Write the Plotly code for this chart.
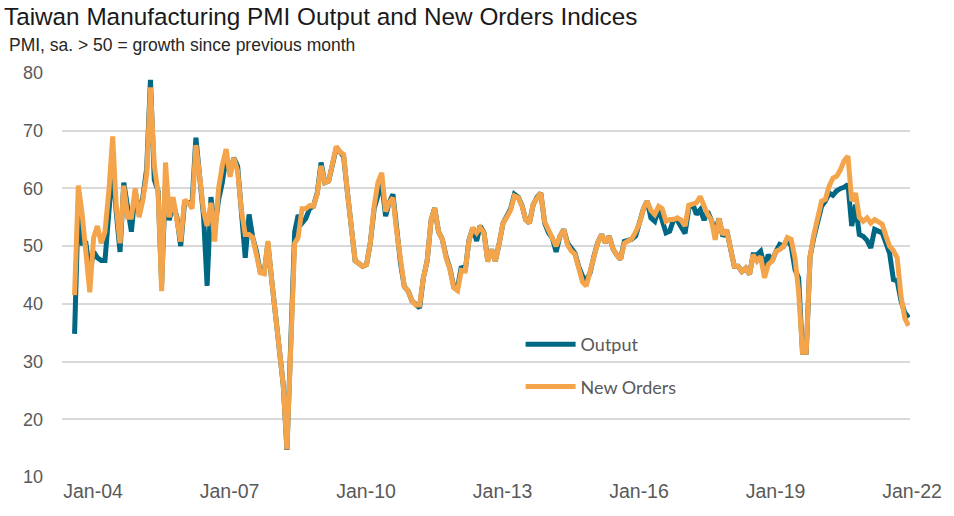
import pandas as pd
import plotly.graph_objects as go

# monthly index values, Apr-2004 .. Aug-2022 (one row per calendar year)
output_idx = [
    34.8, 57.5, 50.5, 50.5, 45.5, 49, 48, 47.5, 47.5,                      # 2004
    57, 64, 56, 49, 61, 56, 52.5, 59.5, 55.5, 58.5, 63.5, 78.8,            # 2005
    61.5, 59.5, 43.5, 61, 54.5, 57.5, 55, 50, 57.5, 57.5, 57.7, 68.8,      # 2006
    62, 55, 43.1, 58.5, 53, 58, 61, 65.5, 62.5, 65.3, 63.8, 56.5,          # 2007
    48, 55.5, 51.5, 49, 45.5, 45.4, 50.5, 44, 38, 33, 26, 14.7,            # 2008
    33, 52.5, 55.4, 54, 54.8, 56.5, 56.9, 59.2, 64.5, 61, 61.3, 64,        # 2009
    67, 66.3, 65.5, 59.2, 52.5, 47.5, 47, 46.5, 46.8, 50.5, 56.5, 58.5,    # 2010
    61, 55.2, 57.5, 59, 52.5, 47, 43, 42.2, 40.5, 39.8, 39.3, 44.5,        # 2011
    47.5, 54.5, 56.6, 52.5, 51.2, 48.2, 46.2, 43, 42.8, 46.5, 45.7, 51,    # 2012
    53.2, 50.9, 53.5, 52.3, 47.5, 49.4, 47.4, 50.5, 54, 55.2, 56.5, 59,    # 2013
    58.5, 57, 54.6, 54, 57.2, 58.5, 59.2, 54, 52.3, 51.4, 49, 51.7,        # 2014
    52.9, 50.5, 49.5, 48.8, 46.5, 44.8, 44, 45.4, 48.3, 50.6, 52, 50.6,    # 2015
    51.7, 49.5, 48.5, 47.7, 50.8, 51, 51.2, 51.8, 54, 56.4, 57.8, 54.9,    # 2016
    54.3, 56.5, 54.5, 52.3, 52.6, 54.6, 54.5, 53.5, 52.2, 56.5, 57.4, 55.5,  # 2017
    56.3, 54.5, 56, 54.5, 52.5, 54.8, 51.7, 52.8, 49.7, 46.5, 46.5, 45.6,  # 2018
    46.2, 45.1, 48.5, 48.5, 49.1, 46.4, 48.5, 47.4, 49.1, 50.3, 50, 51.2,  # 2019
    50, 45.9, 44.5, 31.6, 31.6, 48.2, 51.5, 54, 56.9, 57.8, 59.2, 58.8,    # 2020
    59.6, 60, 60.2, 60.7, 53.5, 57.2, 52, 51.7, 51, 49.7, 52.9, 52.6,      # 2021
    52.3, 50.5, 48.8, 44.2, 44, 40.5, 38.5, 37.6,                          # 2022
]

new_orders_idx = [
    41.5, 60.5, 55.5, 48, 42, 51.5, 53.5, 50.5, 52.5,                      # 2004
    59.5, 69, 57, 50.5, 60.5, 55, 55, 60, 55, 58, 62.5, 77.5,              # 2005
    64, 59, 42.2, 64.5, 55, 58.5, 54.5, 50.8, 58, 57.5, 56.5, 67.5,        # 2006
    62, 56, 53.5, 57.5, 50.8, 60, 64, 66.8, 62, 65.3, 63, 56.3,            # 2007
    52, 52, 51.5, 48.5, 45.4, 45.2, 50.9, 44, 38.5, 33, 26, 14.8,          # 2008
    33, 50.5, 51.5, 56.5, 56.5, 57, 56.9, 59, 63.9, 61, 61.3, 64,          # 2009
    67.3, 66.3, 65.9, 59.2, 52.5, 47.5, 47, 46.5, 46.8, 50.5, 57, 61,      # 2010
    62.7, 56, 57.5, 58.4, 52.5, 47, 43, 42.2, 40.5, 39.8, 39.8, 44.5,      # 2011
    47.5, 54.5, 56.6, 52.5, 51.2, 48, 46, 42.8, 42.3, 45.8, 45.7, 50.9,    # 2012
    53.2, 52.3, 53.2, 52.3, 47.3, 49.4, 47.4, 50.5, 54, 55, 56.3, 58.7,    # 2013
    58.4, 56.9, 54.6, 54, 57.3, 58.3, 59.2, 54.2, 52.6, 51.4, 50, 51.7,    # 2014
    52.9, 50.2, 49.2, 48.6, 46.4, 43.8, 43.1, 45.4, 48.4, 50.6, 52, 50.6,  # 2015
    51.7, 49.5, 48.5, 47.7, 50.5, 50.9, 51.3, 52.5, 54, 56.4, 57.8, 56.2,  # 2016
    55.5, 56.9, 56.5, 54.3, 54.6, 54.6, 54.9, 54.5, 53.5, 57.1, 57.4, 57.5,  # 2017
    58.6, 56.8, 55.5, 54.5, 51.1, 54.8, 52, 52.8, 49.7, 46.5, 46.5, 45.6,  # 2018
    46.2, 45.1, 48.5, 47.4, 48.2, 44.5, 46.8, 47.4, 49.1, 49.4, 50, 51.5,  # 2019
    51.2, 47.9, 42, 31.6, 31.6, 48.2, 52, 55, 57.8, 58.1, 60.4, 61.8,      # 2020
    62.1, 63.3, 64.8, 65.6, 57.8, 59.2, 55, 54.3, 54.9, 54, 54.6, 54.2,    # 2021
    53.8, 51.7, 50, 49.2, 48, 41.3, 37.5, 36.2,                            # 2022
]

months = pd.date_range("2004-04-01", periods=len(output_idx), freq="MS")

TEAL = "#006785"
ORANGE = "#F4A54B"
GREY_TXT = "#595959"

fig = go.Figure()

fig.add_trace(go.Scatter(x=months, y=output_idx, name="Output", mode="lines",
                         legendgroup="a",
                         line=dict(color=TEAL, width=5)))
fig.add_trace(go.Scatter(x=months, y=new_orders_idx, name="New Orders", mode="lines",
                         legendgroup="b",
                         line=dict(color=ORANGE, width=5)))

# 50 = no change line
fig.add_shape(type="line", xref="paper", x0=0, x1=1, yref="y", y0=50, y1=50,
              line=dict(color="black", width=1.2), layer="between")

fig.update_layout(
    width=954, height=516,
    margin=dict(l=62, r=34, t=73, b=39),
    paper_bgcolor="white", plot_bgcolor="white",
    font=dict(family="Liberation Sans, Arial, sans-serif", color=GREY_TXT),
    title=dict(text="Taiwan Manufacturing PMI Output and New Orders Indices",
               font=dict(size=24.3, color="#1a1a1a"),
               xref="container", x=4 / 954, xanchor="left",
               yref="container", y=1 - 16 / 516, yanchor="middle"),
    annotations=[dict(text="PMI, sa. > 50 = growth since previous month",
                      xref="paper", x=(6 - 62) / 858, xanchor="left",
                      yref="paper", y=(477 - 45) / 404, yanchor="middle",
                      showarrow=False, font=dict(size=17.5, color="#262626"))],
    showlegend=True,
    legend=dict(x=(526 - 62) / 858, xanchor="left", y=(477 - 326) / 404, yanchor="top",
                bgcolor="rgba(0,0,0,0)", tracegroupgap=16, itemwidth=50,
                font=dict(family="Lato, sans-serif", size=18, color=GREY_TXT)),
    xaxis=dict(type="date", range=["2003-12-22", "2022-08-12"],
               tick0="2004-01-01", dtick="M36", tickformat="%b-%y",
               ticklabelposition="outside right",
               showgrid=False, zeroline=False, showline=False,
               tickfont=dict(size=19.5, color=GREY_TXT)),
    yaxis=dict(range=[10, 80], dtick=10, showgrid=True, gridcolor="#D9D9D9",
               gridwidth=1.5, zeroline=False, showline=False,
               ticklabelstandoff=18,
               tickfont=dict(size=18, color=GREY_TXT)),
)

fig.write_html("out.html", config={"displayModeBar": False},
               post_script="document.body.style.margin = '0';")
